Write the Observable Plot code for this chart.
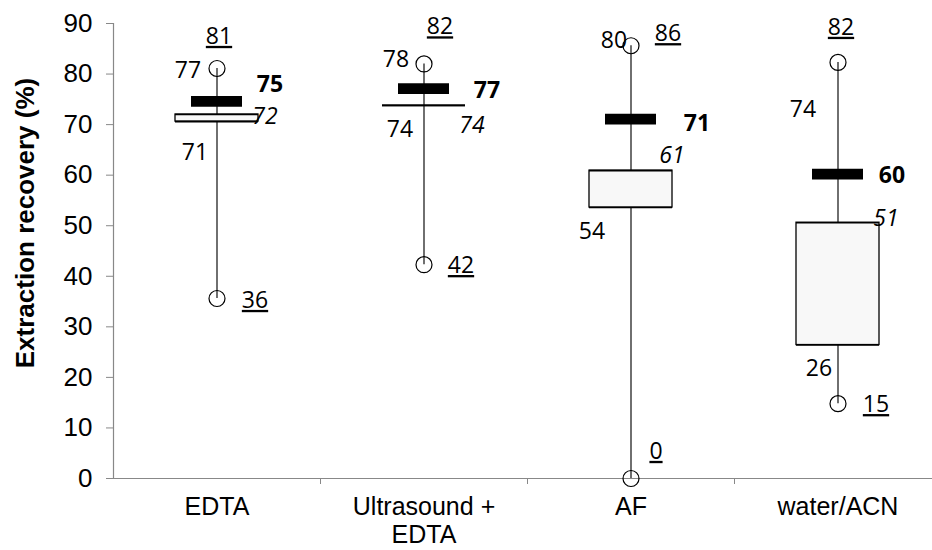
<!DOCTYPE html>
<html>
<head>
<meta charset="utf-8">
<script src="https://cdn.jsdelivr.net/npm/d3@7"></script>
<script src="https://cdn.jsdelivr.net/npm/@observablehq/plot@0.6"></script>
<style>
  body { margin: 0; background: #fff; }
  #chart svg { display: block; }
  g[fill="#000001"] text, text[fill="#000001"] { text-decoration: underline; }
</style>
</head>
<body>
<div id="chart"></div>
<script>
// ---- data ----
const categories  = ["EDTA", "Ultrasound +\nEDTA", "AF", "water/ACN"];
const maxValues   = [81.1, 82.0, 85.6, 82.3];
const otherValues = [77, 78, 80, 74];
const meanValues  = [74.6, 77.1, 71.1, 60.2];
const q3Values    = [72.0, 73.8, 60.9, 50.6];
const q1Values    = [70.6, 73.8, 53.6, 26.4];
const minValues   = [35.6, 42.3, 0, 14.8];
const yTicks      = [0, 10, 20, 30, 40, 50, 60, 70, 80, 90];
const yTitle      = "Extraction recovery (%)";

// ---- layout: label nudges in pixels (manual placement as in the source) ----
const nudges = {
  max:   [[2, -32], [16, -37], [37, -12], [3, -35]],
  other: [[-29, -19], [-28, -25], [-17, -33], [-35, 5]],
  mean:  [[53, -17], [63, 2], [66, 5], [54, 1]],
  q3:    [[48, 2], [48, 20], [41, -15], [48, -4]],
  q1:    [[-22, 31], [-24, 24], [-39, 24], [-19, 24]],
  min:   [[38, 2], [37, 1], [25, -27], [38, 1]]
};

const rows = categories.map((c, i) => ({
  i, cat: c,
  max: maxValues[i], other: otherValues[i], mean: meanValues[i],
  q3: q3Values[i], q1: q1Values[i], min: minValues[i]
}));

const labelFont = "Open Sans, Noto Sans, sans-serif";
const UNDER = "#000001";
const kinds = [
  {key: "max",   opts: {fill: UNDER}},
  {key: "other", opts: {fill: "black"}},
  {key: "mean",  opts: {fill: "black", fontWeight: "bold"}},
  {key: "q3",    opts: {fill: "black", fontStyle: "italic"}},
  {key: "q1",    opts: {fill: "black"}},
  {key: "min",   opts: {fill: UNDER}}
];

const labelMarks = [];
for (const k of kinds) {
  rows.forEach((r, i) => {
    const [dx, dy] = nudges[k.key][i];
    labelMarks.push(Plot.text([r], {
      x: "i", y: k.key, text: d => String(Math.round(d[k.key])),
      dx, dy, fontSize: 23, fontFamily: labelFont, ...k.opts
    }));
  });
}

const edges = rows.flatMap(d => [{i: d.i, v: d.q1}, {i: d.i, v: d.q3}]);
const ends = rows.flatMap(d => [{i: d.i, v: d.max}, {i: d.i, v: d.min}]);
const half = 0.5;

const chart = Plot.plot({
  width: 932,
  height: 550,
  marginLeft: 113,
  marginRight: 0,
  marginTop: 23,
  marginBottom: 72,
  style: {fontFamily: "Liberation Sans, Arial, sans-serif", fontSize: "26px", background: "white", color: "black"},
  x: {type: "linear", domain: [-0.5, 3.5], range: [113, 941], axis: null},
  y: {domain: [0, 90], axis: null},
  marks: [
    Plot.ruleY([0], {stroke: "#888", strokeWidth: 1.2}),
    Plot.ruleX([-0.5], {y1: 0, y2: 90, stroke: "#888", strokeWidth: 1.2}),
    Plot.axisY({ticks: yTicks, tickSize: 7, tickPadding: 14, stroke: "#888", label: null, fontSize: 26}),
    Plot.axisX({ticks: [0.5, 1.5, 2.5], tickSize: 6, tickFormat: () => "", stroke: "#888", label: null}),
    Plot.axisX({ticks: [0, 1, 2, 3], tickSize: 0, tickPadding: 17, tickFormat: i => categories[i], lineHeight: 1.1, label: null, fontSize: 25}),
    Plot.text([yTitle], {frameAnchor: "left", textAnchor: "middle", lineAnchor: "middle", rotate: -90, dx: -88, dy: -28, fontWeight: "bold", fontSize: 26}),
    // whiskers
    Plot.ruleX(rows, {x: "i", y1: "min", y2: "max", stroke: "#222", strokeWidth: 1.3}),
    // boxes
    Plot.rect(rows, {x1: d => d.i - half, x2: d => d.i + half, y1: "q1", y2: "q3",
      insetLeft: 62, insetRight: 62, fill: "#f8f8f8", stroke: "black", strokeWidth: 1.3}),
    Plot.ruleY(edges, {y: "v", x1: d => d.i - half, x2: d => d.i + half,
      insetLeft: 62, insetRight: 62, stroke: "black", strokeWidth: 1.6}),
    // mean bars
    Plot.ruleY(rows, {y: "mean", x1: d => d.i - half, x2: d => d.i + half,
      insetLeft: 78, insetRight: 78, stroke: "black", strokeWidth: 10.7}),
    // extreme circles
    Plot.dot(ends, {x: "i", y: "v", r: 8, stroke: "black", fill: "none", strokeWidth: 1.2}),
    ...labelMarks
  ]
});
document.getElementById("chart").appendChild(chart);
</script>
</body>
</html>
